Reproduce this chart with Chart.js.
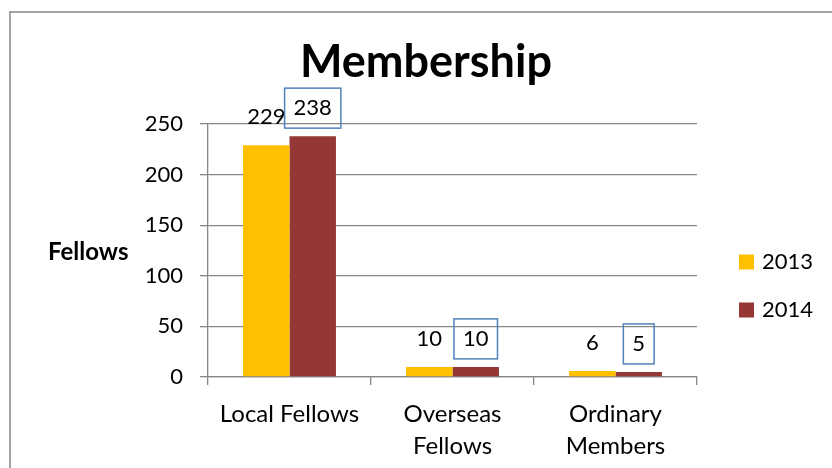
<!DOCTYPE html>
<html>
<head>
<meta charset="utf-8">
<script src="https://cdn.jsdelivr.net/npm/chart.js@4/dist/chart.umd.min.js"></script>
<style>
  html, body { margin: 0; padding: 0; background: #fff; }
  #wrap { position: relative; width: 832px; height: 468px; }
</style>
</head>
<body>
<div id="wrap"><canvas id="membershipChart"></canvas></div>
<script>
// chart data
const CATEGORIES = [['Local Fellows'], ['Overseas', 'Fellows'], ['Ordinary', 'Members']];
const SERIES_NAMES = ['2013', '2014'];
const VALUES_2013 = [229, 10, 6];
const VALUES_2014 = [238, 10, 5];
const Y_TICKS = [0, 50, 100, 150, 200, 250];

const COLORS = {
    gold: '#FFC000',
    maroon: '#953735',
    grid: '#868686',
    frame: '#888888',
    boxBlue: '#4F81BD',
    text: '#000000'
};

const FONT_FAMILY = "Lato, 'Open Sans', sans-serif";

// title, y title, legend, outer frame
const decorPlugin = {
    id: 'decor',
    beforeDraw(chart) {
        const ctx = chart.ctx;
        ctx.save();
        ctx.fillStyle = '#fff';
        ctx.fillRect(0, 0, chart.width, chart.height);
        ctx.strokeStyle = COLORS.frame;
        ctx.lineWidth = 1.5;
        ctx.strokeRect(10, 12, chart.width + 20, chart.height + 20);
        ctx.restore();
    },
    afterDraw(chart) {
        const ctx = chart.ctx;
        ctx.save();
        ctx.fillStyle = COLORS.text;
        ctx.textBaseline = 'middle';

        ctx.font = "bold 45px " + FONT_FAMILY;
        ctx.textAlign = 'center';
        ctx.fillText('Membership', 426, 62);

        ctx.font = "bold 24px " + FONT_FAMILY;
        ctx.textAlign = 'left';
        ctx.fillText('Fellows', 48, 252);

        ctx.font = "22px " + FONT_FAMILY;
        chart.data.datasets.forEach((ds, i) => {
            const cy = 262 + i * 48;
            ctx.fillStyle = ds.backgroundColor;
            ctx.fillRect(739, cy - 7.5, 15, 15);
            ctx.fillStyle = COLORS.text;
            ctx.fillText(ds.label, 762, cy);
        });
        ctx.restore();
    }
};

// value labels above bars, 2014 ones boxed
const valueLabelPlugin = {
    id: 'valueLabels',
    afterDatasetsDraw(chart) {
        const ctx = chart.ctx;
        ctx.save();
        ctx.font = "22px " + FONT_FAMILY;
        ctx.textAlign = 'center';
        ctx.textBaseline = 'middle';
        chart.data.datasets.forEach((ds, di) => {
            const meta = chart.getDatasetMeta(di);
            meta.data.forEach((bar, i) => {
                const txt = String(ds.data[i]);
                const x = bar.x;
                const y = bar.y - 28;
                ctx.fillStyle = COLORS.text;
                ctx.fillText(txt, x, y);
                if (di === 1) {
                    const w = ctx.measureText(txt).width + 18;
                    ctx.strokeStyle = COLORS.boxBlue;
                    ctx.lineWidth = 1.5;
                    ctx.strokeRect(x - w / 2, y - 20, w, 40);
                }
            });
        });
        ctx.restore();
    }
};

new Chart(document.getElementById('membershipChart'), {
    type: 'bar',
    data: {
        labels: CATEGORIES,
        datasets: [
            { label: SERIES_NAMES[0], data: VALUES_2013, backgroundColor: COLORS.gold },
            { label: SERIES_NAMES[1], data: VALUES_2014, backgroundColor: COLORS.maroon }
        ]
    },
    options: {
        responsive: true,
        maintainAspectRatio: false,
        animation: false,
        devicePixelRatio: 1,
        layout: { padding: { left: 0, top: 124, right: 135, bottom: 0 } },
        datasets: { bar: { categoryPercentage: 0.57, barPercentage: 1 } },
        plugins: {
            legend: { display: false },
            title: { display: false },
            tooltip: { enabled: false }
        },
        scales: {
            x: {
                grid: { drawOnChartArea: false, drawTicks: true, tickLength: 8, color: COLORS.grid, lineWidth: 1.3 },
                border: { color: COLORS.grid, width: 1.3 },
                ticks: { color: COLORS.text, padding: 13, font: { family: FONT_FAMILY, size: 24, lineHeight: 1.33 }, maxRotation: 0 },
                afterFit(scale) { scale.height = 91; }
            },
            y: {
                min: 0,
                max: 250,
                afterBuildTicks(scale) { scale.ticks = Y_TICKS.map(v => ({ value: v })); },
                grid: { color: COLORS.grid, lineWidth: 1.3, tickLength: 8 },
                border: { color: COLORS.grid, width: 1.3 },
                ticks: { color: COLORS.text, padding: 17, font: { family: FONT_FAMILY, size: 22 } },
                afterFit(scale) { scale.width = 208; }
            }
        }
    },
    plugins: [decorPlugin, valueLabelPlugin]
});
</script>
</body>
</html>
